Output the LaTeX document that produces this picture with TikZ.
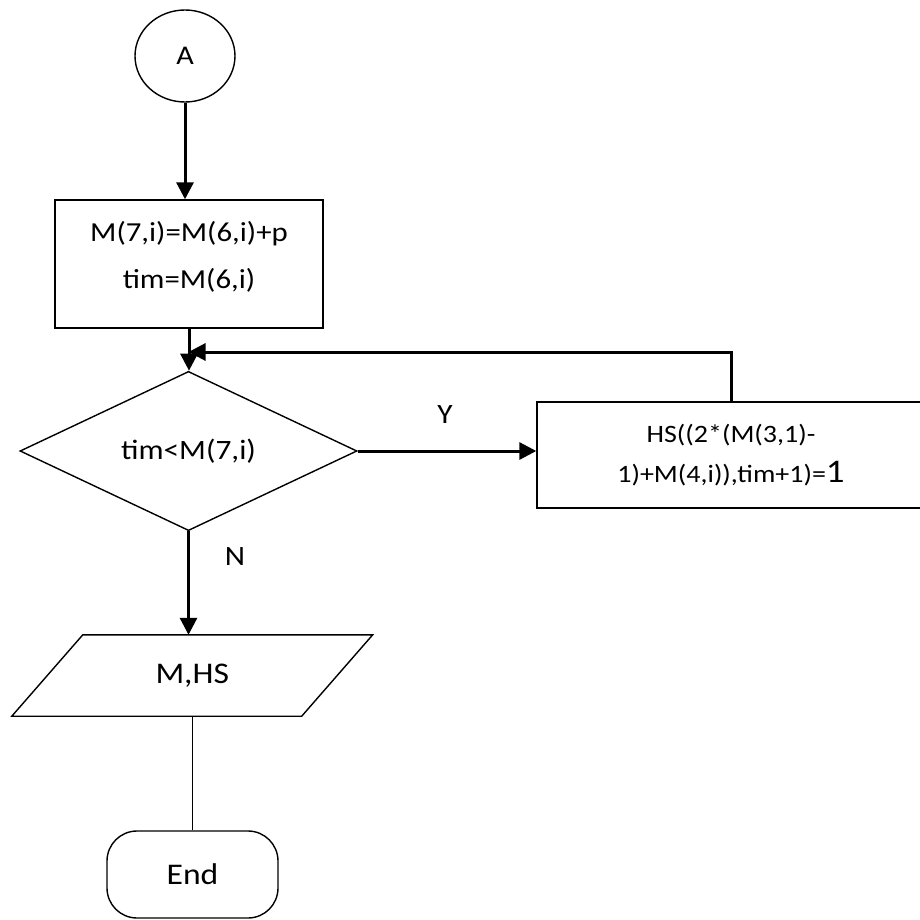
\documentclass[tikz,border=0pt]{standalone}
\usepackage{fontspec}
\setmainfont[FakeStretch=1.12]{Carlito}
\usetikzlibrary{shapes.geometric,arrows.meta}
\begin{document}
\begin{tikzpicture}[x=1pt,y=-1pt,
  outline/.style={draw=black, line width=1.4pt},
  flow/.style={draw=black, line width=3pt, -{Triangle[length=17pt,width=17pt]}},
  plain/.style={draw=black, line width=1.5pt},
  lbl/.style={font=\fontsize{28}{28}\selectfont, inner sep=0pt}]
\useasboundingbox (0,0) rectangle (920,920);

% connector A
\node[outline, ellipse, minimum width=100pt, minimum height=92pt, inner sep=0pt,
      font=\fontsize{27}{27}\selectfont] (A) at (185,56) {A};

% assignment block
\node[outline, minimum width=268pt, minimum height=128pt, align=center,
      text depth=18pt, font=\fontsize{27.5}{47}\selectfont] (b1) at (189,264)
      {M(7,i)=M(6,i)+p\\tim=M(6,i)};

% loop test
\node[outline, diamond, minimum width=337pt, minimum height=138pt, inner sep=0pt,
      font=\fontsize{28}{28}\selectfont] (dia) at (188.5,451) {tim<M(7,i)};

% loop body
\node[outline, minimum width=388pt, minimum height=106pt, align=center,
      font=\fontsize{25}{40}\selectfont] (b2) at (731,455)
      {HS((2*(M(3,1)-\\1)+M(4,i)),tim+1)={\fontsize{33}{40}\selectfont 1}};

% output
\node[minimum width=289.5pt, minimum height=81pt, inner sep=0pt,
      font=\fontsize{30}{30}\selectfont] (io) at (192.25,675.5) {M,HS};
\draw[outline] ([xshift=-35.5pt]io.south west) -- ([xshift=-35.5pt]io.south east)
  -- ([xshift=35.5pt]io.north east) -- ([xshift=35.5pt]io.north west) -- cycle;

% terminator
\node[outline, rounded corners=30pt, minimum width=171pt, minimum height=87pt,
      font=\fontsize{30}{30}\selectfont] (end) at (192.5,874.5) {End};

% connectors
\coordinate (join) at (dia.north |- 0,352);
\draw[flow] (A.south) -- (A.south |- b1.north);
\draw[flow] (b1.south) -- (b1.south |- dia.north);
\draw[flow] (dia.east) -- (dia.east -| b2.west);
\draw[flow] (b2.north) |- (join);
\draw[flow] (dia.south) -- (dia.south |- io.north);
\draw[plain] (io.south) -- (io.south |- end.north);

\node[lbl] (yes) at (445,415) {Y};
\node[lbl] (no) at (235,557) {N};
\end{tikzpicture}
\end{document}
